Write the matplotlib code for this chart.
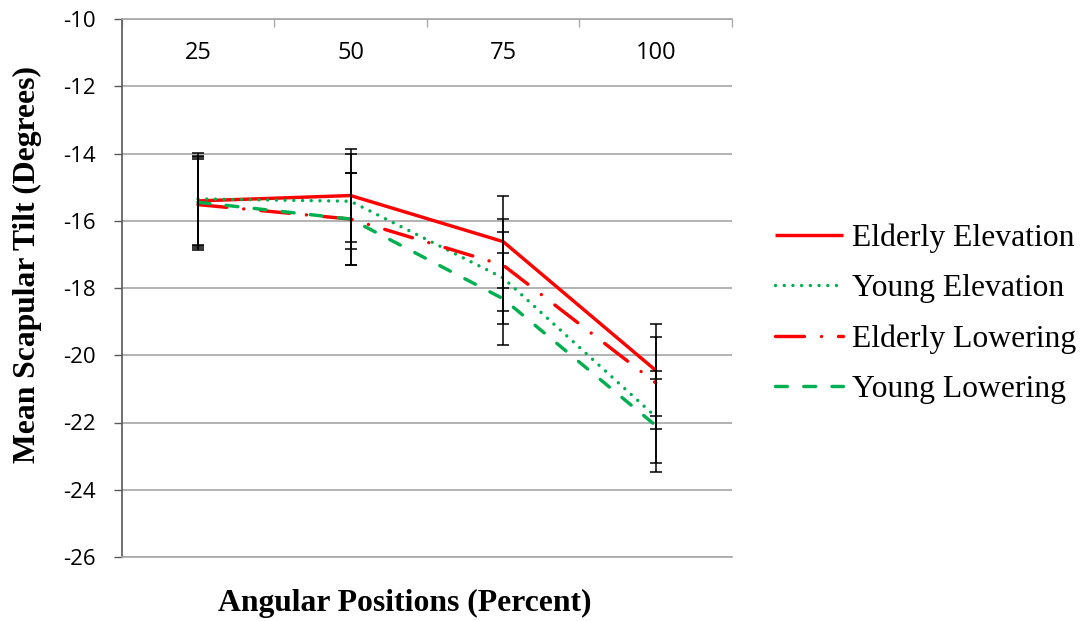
import matplotlib
matplotlib.use("Agg")
import matplotlib.pyplot as plt
import numpy as np
from matplotlib.ticker import FixedLocator

plt.rcParams['axes.unicode_minus'] = False

categories = ["25", "50", "75", "100"]
series_names = ["Elderly Elevation", "Young Elevation", "Elderly Lowering", "Young Lowering"]

elderly_elevation = [-15.41, -15.25, -16.62, -20.45]
young_elevation = [-15.35, -15.42, -17.70, -21.83]
elderly_lowering = [-15.52, -15.95, -17.32, -20.82]
young_lowering = [-15.45, -15.95, -18.32, -22.09]

elderly_elevation_sd = [1.33, 1.37, 1.37, 1.37]
young_elevation_sd = [1.36, 1.41, 1.375, 1.37]
elderly_lowering_sd = [1.36, 1.38, 1.37, 1.37]
young_lowering_sd = [1.36, 1.38, 1.37, 1.37]

y_ticks = [-26, -24, -22, -20, -18, -16, -14, -12, -10]

RED = "#FF0000"
GREEN = "#00B050"
GRID = "#A6A6A6"

fig = plt.figure(figsize=(10.85, 6.21), dpi=100)
ax = fig.add_axes([121.7/1085, 1-557/621, (732-121.7)/1085, (557-19)/621])

x = np.arange(len(categories))
values = [elderly_elevation, young_elevation, elderly_lowering, young_lowering]
sds = [elderly_elevation_sd, young_elevation_sd, elderly_lowering_sd, young_lowering_sd]
colors = [RED, GREEN, RED, GREEN]
lw = 2.45
styles = ["-", (0, (0.01, 2.55)), (0, (8.5, 5.0, 0.01, 5.0)), (0, (3.5, 4.8))]

for name, v, c, ls in zip(series_names, values, colors, styles):
    ax.plot(x, v, color=c, linestyle=ls, linewidth=lw, label=name,
            solid_capstyle='butt', dash_capstyle='round', zorder=3)

for v, s in zip(values, sds):
    ax.errorbar(x, v, yerr=s, fmt='none', ecolor='black', elinewidth=1.1,
                capsize=4.2, capthick=1.1, zorder=4)

ax.set_xlim(-0.5, len(categories) - 0.5)
ax.set_ylim(-26, -10)
ax.set_yticks(y_ticks)
ax.set_yticklabels([str(t) for t in y_ticks], fontsize=16, family='Open Sans')

ax.yaxis.grid(True, color=GRID, linewidth=1.2)
ax.set_axisbelow(True)

# x axis at top, labels inside
ax.xaxis.set_ticks_position('top')
ax.set_xticks(x)
ax.set_xticklabels(categories, fontsize=17, family='Open Sans')
ax.xaxis.set_minor_locator(FixedLocator(np.arange(-0.5, len(categories), 1.0)))
ax.tick_params(axis='x', which='major', length=0, pad=-24.5, top=True, labeltop=True,
               bottom=False, labelbottom=False)
ax.tick_params(axis='x', which='minor', length=5.5, direction='in', color=GRID, width=0.9,
               top=True, bottom=False)
for t in ax.xaxis.get_major_ticks():
    t.label2.set_va('center')

ax.tick_params(axis='y', which='major', length=6, direction='out', color='#595959',
               width=1.0, pad=13)

ax.spines['right'].set_visible(False)
ax.spines['top'].set_color(GRID)
ax.spines['top'].set_linewidth(1.2)
ax.spines['bottom'].set_color(GRID)
ax.spines['bottom'].set_linewidth(1.2)
ax.spines['left'].set_color('#595959')
ax.spines['left'].set_linewidth(1.2)

ax.set_ylabel("Mean Scapular Tilt (Degrees)", fontsize=22.8, family='Liberation Serif',
              fontweight='bold', va='center', ha='center')
ax.yaxis.set_label_coords(-0.155, 0.543)
ax.set_xlabel("Angular Positions (Percent)", fontsize=22.8, family='Liberation Serif',
              fontweight='bold', va='center', ha='center')
ax.xaxis.set_label_coords(0.464, -0.0855)

leg = fig.legend(loc='center left', bbox_to_anchor=(775/1085, 1-314/621), frameon=False,
                 prop={'family': 'Liberation Serif', 'size': 22.8},
                 handlelength=2.15, handletextpad=0.28, labelspacing=0.67,
                 borderpad=0, borderaxespad=0)

fig.savefig("out.png", dpi=100)
